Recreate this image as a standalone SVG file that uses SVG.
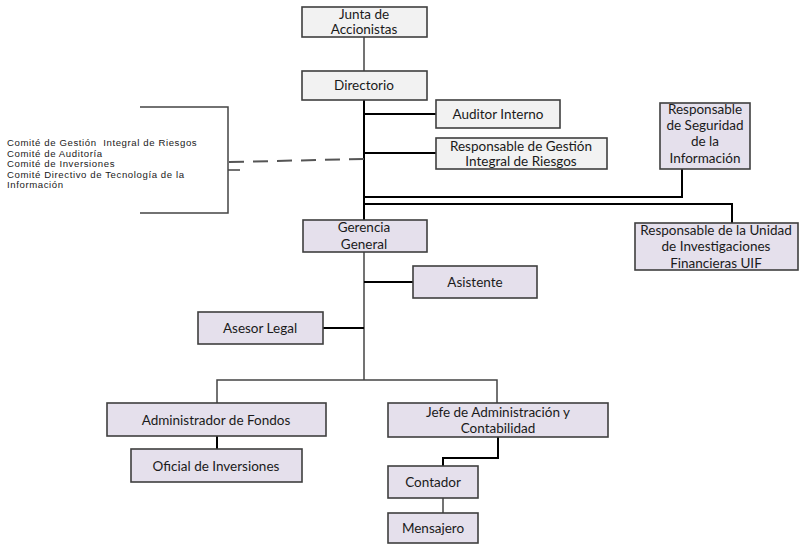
<svg xmlns="http://www.w3.org/2000/svg" width="799" height="544" viewBox="0 0 799 544">
<style>
.g{fill:#f2f2f2;stroke:#3f3f3f;stroke-width:1.6}
.p{fill:#e5e0ec;stroke:#3f3f3f;stroke-width:1.6}
text{font-family:Lato,"Open Sans","Liberation Sans",sans-serif;font-size:13.5px;fill:#1a1a1a;text-anchor:middle}
.c{fill:none;stroke:#000;stroke-width:2}
.t{fill:none;stroke:#444;stroke-width:1.5}
.side{font-family:"Liberation Sans",Arial,sans-serif;font-size:9.6px;letter-spacing:0.6px;text-anchor:start;white-space:pre}
</style>
<rect width="799" height="544" fill="#fff"/>
<g id="connectors">
<path class="t" d="M364 37V71"/>
<path class="c" d="M364 100V220"/>
<path class="c" d="M364 114H436"/>
<path class="c" d="M364 153H436"/>
<path class="c" d="M682 169V197H364"/>
<path class="c" d="M364 204H732V223"/>
<path class="t" d="M364 252V380"/>
<path class="c" d="M364 282H413"/>
<path class="c" d="M323 328H364"/>
<path class="t" d="M217 403V380H497V403"/>
<path class="c" d="M217 436V449"/>
<path class="c" d="M498 437V458H443V466"/>
<path class="t" d="M443 498V513"/>
<path d="M229 162L364 159" fill="none" stroke="#555" stroke-width="2" stroke-dasharray="15 9"/>
<path class="t" d="M140 107H228V213H140M228 170H240"/>
</g>
<g id="comites">
<text class="side" x="7" y="146">Comité de Gestión  Integral de Riesgos</text>
<text class="side" x="7" y="156.5">Comité de Auditoría</text>
<text class="side" x="7" y="167">Comité de Inversiones</text>
<text class="side" x="7" y="177.5">Comité Directivo de Tecnología de la</text>
<text class="side" x="7" y="188">Información</text>
</g>
<g id="junta"><rect class="g" x="302" y="7" width="125" height="30"/><text x="364" y="19">Junta  de</text><text x="364" y="34">Accionistas</text></g>
<g id="directorio"><rect class="g" x="302" y="71" width="125" height="29"/><text x="364" y="90">Directorio</text></g>
<g id="auditor"><rect class="g" x="436" y="100" width="124" height="28"/><text x="498" y="119">Auditor Interno</text></g>
<g id="riesgos"><rect class="g" x="436" y="138" width="171" height="31"/><text x="521" y="151">Responsable de Gestión</text><text x="521" y="166">Integral de Riesgos</text></g>
<g id="seguridad"><rect class="p" x="660" y="103" width="90" height="66"/><text x="705" y="114">Responsable</text><text x="705" y="130">de Seguridad</text><text x="705" y="146">de la</text><text x="705" y="163">Información</text></g>
<g id="uif"><rect class="p" x="635" y="223" width="163" height="47"/><text x="716" y="235">Responsable de la Unidad</text><text x="716" y="251">de Investigaciones</text><text x="716" y="268">Financieras UIF</text></g>
<g id="gerencia"><rect class="p" x="303" y="220" width="124" height="32"/><text x="364" y="232">Gerencia</text><text x="364" y="249">General</text></g>
<g id="asistente"><rect class="p" x="413" y="266" width="124" height="32"/><text x="475" y="287">Asistente</text></g>
<g id="asesor"><rect class="p" x="198" y="312" width="125" height="32"/><text x="260" y="333">Asesor Legal</text></g>
<g id="admin-fondos"><rect class="p" x="107" y="403" width="219" height="33"/><text x="216" y="425">Administrador de Fondos</text></g>
<g id="oficial"><rect class="p" x="131" y="449" width="171" height="33"/><text x="216" y="471">Oficial de Inversiones</text></g>
<g id="jefe"><rect class="p" x="388" y="403" width="220" height="34"/><text x="498" y="417">Jefe de Administración y</text><text x="498" y="433">Contabilidad</text></g>
<g id="contador"><rect class="p" x="388" y="466" width="90" height="32"/><text x="433" y="487">Contador</text></g>
<g id="mensajero"><rect class="p" x="388" y="513" width="90" height="30"/><text x="433" y="533">Mensajero</text></g>
</svg>
